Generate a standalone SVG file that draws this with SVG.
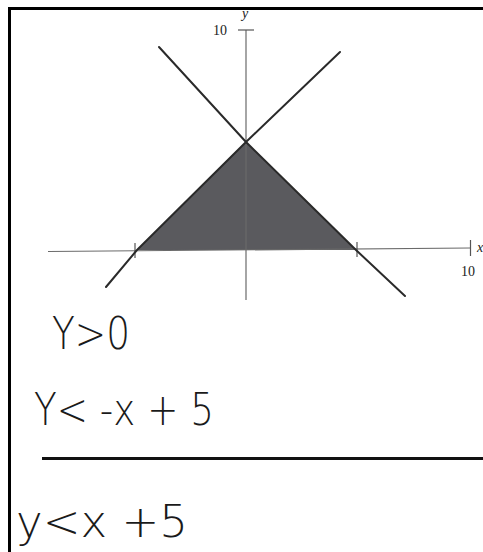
<svg xmlns="http://www.w3.org/2000/svg" width="483" height="552" viewBox="0 0 483 552">
<style>
.axis{stroke:#6a6a6a;stroke-width:1.2;fill:none}
.tick{stroke:#555;stroke-width:1.2;fill:none}
.bound{stroke:#2a2a2a;stroke-width:2;fill:none;stroke-linecap:round;stroke-linejoin:round}
.border{stroke:#000;stroke-width:3;fill:none}
.lab{font-family:"Liberation Serif",serif;font-size:14px;fill:#222}
.hand{font-family:"DejaVu Sans","Liberation Sans",sans-serif;fill:#1a1a1a;font-weight:300}
</style>
<rect width="483" height="552" fill="#fff"/>
<g id="frame">
<path class="border" d="M9.5,552 V8.5 H483"/>
<line x1="42" y1="458.5" x2="483" y2="458.5" stroke="#111" stroke-width="3"/>
</g>
<g id="region">
<polygon points="246,142 137,250 356,250" fill="#5a5a5e"/>
</g>
<g id="axes">
<line class="axis" x1="48" y1="251.5" x2="470" y2="248"/>
<line class="axis" x1="246" y1="30" x2="246" y2="300"/>
<line class="tick" x1="238" y1="30" x2="254" y2="30"/>
<line class="tick" x1="470.5" y1="240" x2="470.5" y2="256"/>
<line class="tick" x1="135" y1="243" x2="135" y2="258"/>
<line class="tick" x1="357" y1="242" x2="357" y2="257"/>
<text class="lab" x="213" y="35">10</text>
<text class="lab" x="242" y="18" font-style="italic">y</text>
<text class="lab" x="461" y="276">10</text>
<text class="lab" x="477" y="252" font-style="italic">x</text>
</g>
<g id="connectors">
<polyline class="bound" points="159,47 246,142 356,250 405,296"/>
<polyline class="bound" points="340,52 246,142 137,250 106,287"/>
</g>
<g id="labels">
<text class="hand" x="52" y="349" font-size="44" textLength="78" lengthAdjust="spacingAndGlyphs">Y&gt;0</text>
<text class="hand" x="34" y="425" font-size="44" textLength="180" lengthAdjust="spacingAndGlyphs">Y&lt; -x + 5</text>
<text class="hand" x="16" y="537" font-size="44" textLength="172" lengthAdjust="spacingAndGlyphs">y&lt;x +5</text>
</g>
</svg>
